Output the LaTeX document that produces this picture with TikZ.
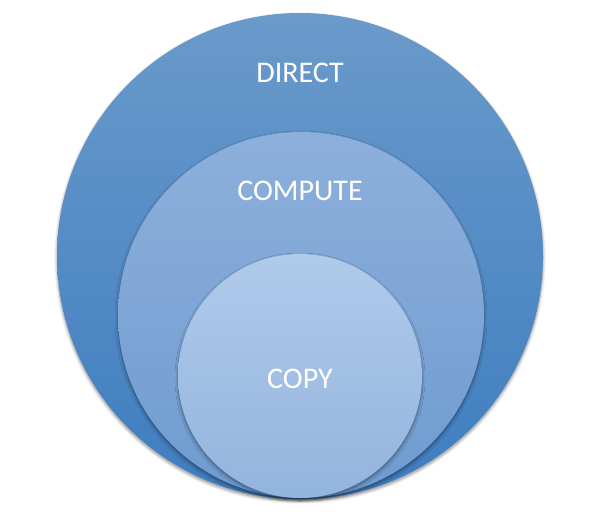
\documentclass[tikz,border=0pt]{standalone}
\usepackage{fontspec}
\setmainfont{Carlito}
\usetikzlibrary{shadows.blur}
\definecolor{outtop}{HTML}{6A9ACA}
\definecolor{outbot}{HTML}{3E7DC0}
\definecolor{midtop}{HTML}{8DB0DB}
\definecolor{midbot}{HTML}{6E9BD0}
\definecolor{intop}{HTML}{B0CAEA}
\definecolor{inbot}{HTML}{93B4DE}
\tikzset{
  ring/.style={circle, inner sep=0pt, draw=none,
    blur shadow={shadow xshift=0pt, shadow yshift=-2pt, shadow blur steps=6, shadow blur radius=3pt, shadow opacity=45}},
  lbl/.style={text=white, font=\fontsize{30}{34}\selectfont, inner sep=0pt}
}
\begin{document}
\begin{tikzpicture}[x=1pt,y=-1pt]
\useasboundingbox (0,0) rectangle (600,514);
\node[ring, minimum size=486pt, top color=outtop, bottom color=outbot] (outer) at (300,256) {};
\node[ring, minimum size=366pt, top color=midtop, bottom color=midbot] (middle) at (301,315) {};
\node[ring, minimum size=244pt, top color=intop, bottom color=inbot] (inner) at (300,376) {};
\node[lbl] (direct) at (300,73) {DIRECT};
\node[lbl] (compute) at (300,191) {COMPUTE};
\node[lbl] (copy) at (300,379) {COPY};
\end{tikzpicture}
\end{document}
